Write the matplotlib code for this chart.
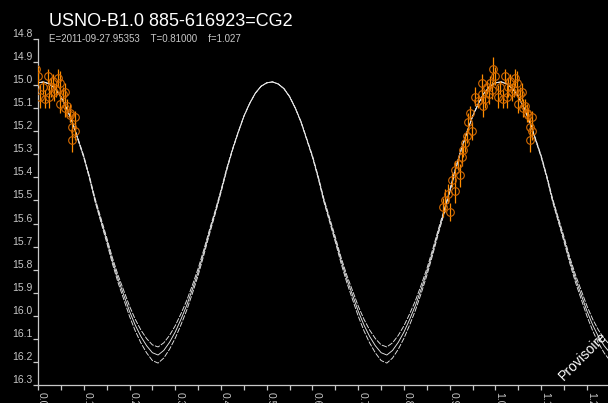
import numpy as np
import matplotlib
matplotlib.use("Agg")
import matplotlib.pyplot as plt
from matplotlib.transforms import ScaledTranslation

TITLE = "USNO-B1.0 885-616923=CG2"
SUBTITLE = "E=2011-09-27.95353    T=0.81000    f=1.027"

# model light curve, one half period (phase 0 .. 0.4875, step 0.0125)
half_mag = [14.990, 14.986, 14.995, 15.015, 15.050, 15.100, 15.160, 15.235,
            15.310, 15.400, 15.500, 15.585, 15.670, 15.760, 15.840, 15.910,
            15.980, 16.040, 16.090, 16.130, 16.160, 16.170, 16.150, 16.115,
            16.070, 16.015, 15.955, 15.885, 15.810, 15.725, 15.635, 15.550,
            15.460, 15.365, 15.280, 15.205, 15.135, 15.080, 15.035, 15.005]
# half width of the envelope around the model
half_spread = [0.000, 0.000, 0.000, 0.000, 0.001, 0.001, 0.002, 0.003,
               0.004, 0.005, 0.007, 0.009, 0.011, 0.013, 0.016, 0.019,
               0.022, 0.025, 0.028, 0.031, 0.034, 0.035, 0.033, 0.030,
               0.027, 0.024, 0.021, 0.018, 0.015, 0.012, 0.010, 0.008,
               0.006, 0.005, 0.003, 0.002, 0.001, 0.001, 0.000, 0.000]

# observations (phase, magnitude, error)
obs_phase = [0.885, 0.890, 0.900, 0.897, 0.911, 0.905, 0.911, 0.922, 0.918, 0.927,
             0.929, 0.933, 0.938, 0.949, 0.940, 0.944, 0.955, 0.962, 0.970, 0.973,
             0.970, 0.976, 0.981, 0.986, 0.988, 0.992, 0.995, 0.999, 0.005, 0.010,
             0.016, 0.021, 0.025, 0.028, 0.032, 0.036, 0.040, 0.043, 0.047, 0.049,
             0.054, 0.058, 0.060, 0.064, 0.069, 0.071, 0.075, 0.080, 0.080, 0.075]
obs_mag = [15.53, 15.50, 15.55, 15.47, 15.46, 15.41, 15.37, 15.39, 15.34, 15.31,
           15.28, 15.25, 15.22, 15.20, 15.16, 15.12, 15.05, 15.07, 14.99, 15.09,
           15.04, 15.06, 15.01, 15.04, 14.99, 15.02, 14.93, 14.96, 15.05, 15.01,
           15.06, 14.96, 15.05, 15.01, 14.98, 15.03, 15.02, 14.97, 14.99, 15.08,
           15.04, 15.03, 15.10, 15.09, 15.12, 15.13, 15.18, 15.14, 15.20, 15.24]
obs_err = [0.04, 0.05, 0.04, 0.04, 0.05, 0.03, 0.04, 0.05, 0.03, 0.04,
           0.03, 0.04, 0.03, 0.04, 0.04, 0.03, 0.04, 0.03, 0.04, 0.05,
           0.03, 0.04, 0.03, 0.04, 0.03, 0.04, 0.05, 0.04, 0.05, 0.03,
           0.04, 0.03, 0.05, 0.04, 0.03, 0.04, 0.03, 0.04, 0.05, 0.04,
           0.03, 0.04, 0.04, 0.03, 0.04, 0.03, 0.04, 0.03, 0.04, 0.05]

# build the model over three half periods
step = 0.0125
model_mag = np.tile(half_mag, 3)
model_spread = np.tile(half_spread, 3)
model_phase = np.arange(len(model_mag)) * step

obs_phase = np.array(obs_phase)
obs_mag = np.array(obs_mag)
obs_err = np.array(obs_err)

fig = plt.figure(figsize=(6.08, 4.03), dpi=100, facecolor="black")
ax = fig.add_axes([38 / 608, 18 / 403, 1 - 38 / 608, 346 / 403])
ax.set_facecolor("black")

curve_col = "#e6e6e6"
ax.plot(model_phase, model_mag, color=curve_col, lw=0.65)
ax.plot(model_phase, model_mag - model_spread, color=curve_col, lw=0.65, dashes=(6, 1.5))
ax.plot(model_phase, model_mag + model_spread, color=curve_col, lw=0.65, dashes=(6, 1.5))

# data shown at phase and phase +/- 1
for shift in (-1, 0, 1):
    ax.errorbar(obs_phase + shift, obs_mag, yerr=obs_err, fmt="o", ms=5.5,
                mfc="none", mec="#d46a00", mew=0.8, ecolor="#ff8c00",
                elinewidth=0.9, capsize=0, zorder=3)

ax.set_xlim(0, 570 / 457.5)
ax.set_ylim(16.3, 14.8)

xt = np.round(np.arange(0, 1.25, 0.1), 1)
ax.set_xticks(xt)
ax.set_xticklabels([f"{v:.1f}" for v in xt])
ax.set_xticks(np.arange(0.05, 1.25, 0.1), minor=True)
yt = np.round(np.arange(14.8, 16.31, 0.1), 1)
ax.set_yticks(yt)
ax.set_yticklabels([f"{v:.1f}" for v in yt])

grey = "#c8c8c8"
for side in ("top", "right"):
    ax.spines[side].set_visible(False)
for side in ("left", "bottom"):
    ax.spines[side].set_color(grey)
    ax.spines[side].set_linewidth(0.9)

ax.tick_params(axis="both", which="both", direction="out", length=3.5,
               width=0.9, color=grey, labelcolor=grey)
ax.tick_params(axis="y", pad=0.5, labelsize=7.5)
ax.tick_params(axis="x", pad=1.5, labelsize=7.5)

for lab in ax.get_yticklabels():
    lab.set_fontfamily("Liberation Sans")
    lab.set_verticalalignment("bottom")
offset = ScaledTranslation(4 / 100, 0, fig.dpi_scale_trans)
for lab in ax.get_xticklabels():
    lab.set_fontfamily("Liberation Sans")
    lab.set_rotation(-90)
    lab.set_verticalalignment("top")
    lab.set_horizontalalignment("center")
    lab.set_transform(lab.get_transform() + offset)

fig.text(49 / 608, 1 - 26 / 403, TITLE, color="white", fontsize=13,
         family="Liberation Sans", va="baseline", ha="left")
fig.text(49 / 608, 1 - 41.5 / 403, SUBTITLE, color=grey, fontsize=7,
         family="Liberation Sans", va="baseline", ha="left")

ax.text(1.192, 16.175, "Provisoire", color="white", fontsize=10,
        family="Liberation Sans", rotation=45, ha="center", va="center",
        rotation_mode="anchor", clip_on=False)

fig.savefig("out.png", dpi=100, facecolor="black")
